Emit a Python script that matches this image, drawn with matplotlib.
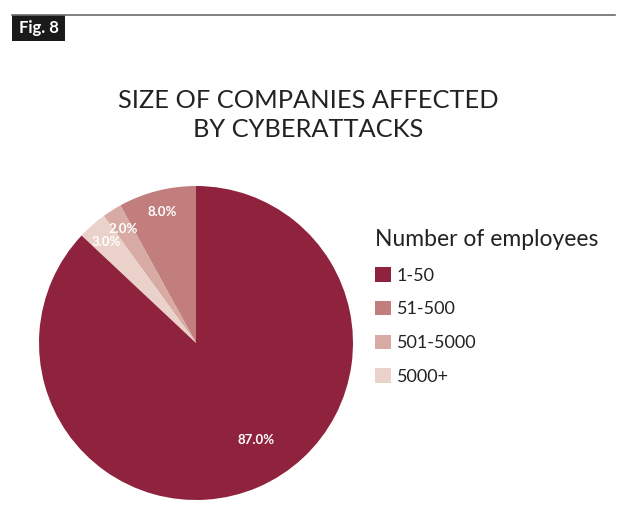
import matplotlib
matplotlib.use("Agg")
import matplotlib.pyplot as plt
from matplotlib.patches import Patch, Rectangle
from matplotlib.lines import Line2D

categories = ["1-50", "51-500", "501-5000", "5000+"]
shares = [87.0, 8.0, 2.0, 3.0]
colors = ["#8f233d", "#c17e7c", "#d7aba4", "#ead1ca"]
plot_order = [1, 2, 3, 0]

W, H = 628, 530
fig = plt.figure(figsize=(W / 100, H / 100), dpi=100)
fig.patch.set_facecolor("white")

font = "Lato"

# header line and Fig. label
fig.add_artist(Line2D([12 / W, 615 / W], [1 - 15 / H, 1 - 15 / H], color="#6b6b6b", lw=1.2))
fig.add_artist(Rectangle((12 / W, 1 - 41 / H), 53 / W, 26 / H, color="#1a1a1a", lw=0))
fig.text(38.5 / W, 1 - 28 / H, "Fig. 8", color="white", fontsize=12, fontweight="bold",
         ha="center", va="center", family=font)

fig.text(308 / W, 1 - 115 / H, "SIZE OF COMPANIES AFFECTED\nBY CYBERATTACKS",
         ha="center", va="center", fontsize=18.3, color="#222222", family=font,
         fontweight="normal", linespacing=1.28)

ax = fig.add_axes([(196 - 157) / W, (530 - 500) / H, 314 / W, 314 / H])
vals = [shares[i] for i in plot_order]
cols = [colors[i] for i in plot_order]
wedges, texts, autotexts = ax.pie(vals, colors=cols, startangle=90, counterclock=True,
                                  autopct="%.1f%%", pctdistance=0.86,
                                  textprops=dict(color="white", fontsize=9.5, fontweight="bold", family=font),
                                  wedgeprops=dict(linewidth=0))
autotexts[-1].set_position((0.38, -0.62))
ax.set_xlim(-1, 1)
ax.set_ylim(-1, 1)
ax.set_aspect("equal")

handles = [Patch(facecolor=c, edgecolor="none") for c in colors]
leg = fig.legend(handles, categories, loc="upper left",
                 bbox_to_anchor=(359 / W, 1 - 213 / H), frameon=False,
                 title="Number of employees", handlelength=0.85, handleheight=0.85,
                 handletextpad=0.35, labelspacing=0.95, alignment="left",
                 prop=dict(family=font, size=13),
                 title_fontproperties=dict(family=font, size=16.5))
for t in leg.get_texts():
    t.set_color("#222222")
leg.get_title().set_color("#222222")

fig.savefig("out.png", dpi=100, facecolor="white")
